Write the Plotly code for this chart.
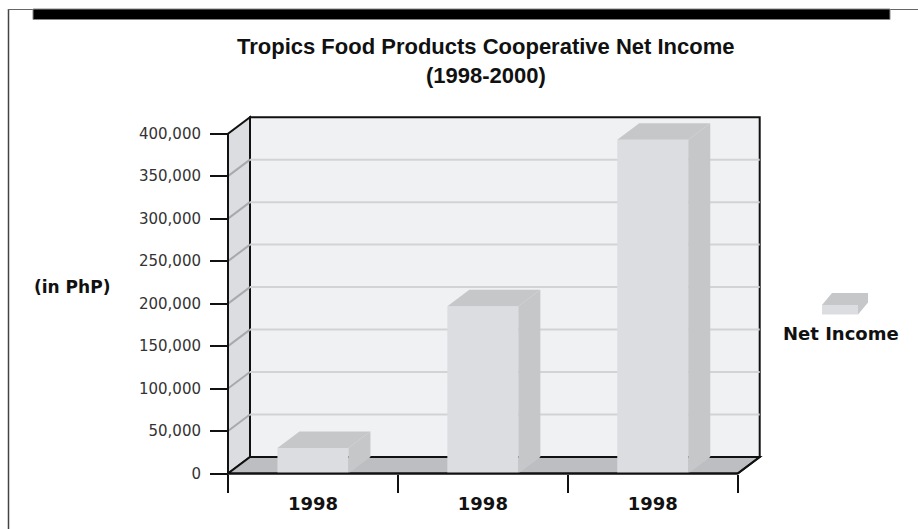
import plotly.graph_objects as go

# ---------------- data ----------------
categories = ["1998", "1998", "1998"]
net_income = [30000, 197000, 393000]
y_ticks = [0, 50000, 100000, 150000, 200000, 250000, 300000, 350000, 400000]
series_name = "Net Income"
title_line1 = "Tropics Food Products Cooperative Net Income"
title_line2 = "(1998-2000)"
y_title = "(in PhP)"

# ---------------- layout geometry ----------------
W, H = 918, 529
ML, MR, MT, MB = 220, 148, 110, 49
PW, PH = W - ML - MR, H - MT - MB
X_ORIGIN_PX = 228.0        # pixel of x = -0.5
X_PX_PER_UNIT = 169.9
Y_ZERO_PX = 473.5          # pixel of y = 0
Y_PX_PER_UNIT = 849.5 / 1e6
DX = 22 / X_PX_PER_UNIT    # depth offset (x units)
DY = 16.5 / Y_PX_PER_UNIT  # depth offset (y units)
BAR_W = 71 / X_PX_PER_UNIT

x_rng = [-0.5 + (ML - X_ORIGIN_PX) / X_PX_PER_UNIT,
         -0.5 + (W - MR - X_ORIGIN_PX) / X_PX_PER_UNIT]
y_rng = [(Y_ZERO_PX - (H - MB)) / Y_PX_PER_UNIT,
         (Y_ZERO_PX - MT) / Y_PX_PER_UNIT]


def px(x):
    return (x - ML) / PW


def py(y):
    return (H - MB - y) / PH


n = len(categories)
xs = list(range(n))
x_lo, x_hi = -0.5, n - 0.5
y_top = y_ticks[-1]

C_BACK = "#f0f1f3"
C_LEFT = "#dcdde0"
C_FLOOR = "#bdbec1"
C_FRONT = "#dcdde0"
C_TOP = "#c6c7c9"
C_EDGE = "#111111"

shapes = []
# back wall
shapes.append(dict(type="rect", xref="x", yref="y", layer="below",
                   x0=x_lo + DX, x1=x_hi + DX, y0=DY, y1=y_top + DY,
                   fillcolor=C_BACK, line=dict(color=C_EDGE, width=2)))
# left wall
shapes.append(dict(type="path", xref="x", yref="y", layer="below",
                   path=f"M{x_lo},0 L{x_lo},{y_top} L{x_lo+DX},{y_top+DY} L{x_lo+DX},{DY} Z",
                   fillcolor=C_LEFT, line=dict(color=C_EDGE, width=2)))
# floor
shapes.append(dict(type="path", xref="x", yref="y", layer="below",
                   path=f"M{x_lo},0 L{x_hi},0 L{x_hi+DX},{DY} L{x_lo+DX},{DY} Z",
                   fillcolor=C_FLOOR, line=dict(color=C_EDGE, width=2)))
# gridlines on back + left wall
for v in y_ticks[1:-1]:
    shapes.append(dict(type="line", xref="x", yref="y", layer="below",
                       x0=x_lo + DX, x1=x_hi + DX, y0=v + DY, y1=v + DY,
                       line=dict(color="#d2d3d5", width=2)))
    shapes.append(dict(type="line", xref="x", yref="y", layer="below",
                       x0=x_lo, x1=x_lo + DX, y0=v, y1=v + DY,
                       line=dict(color="#a9a9ab", width=2)))
# front edges on top
shapes.append(dict(type="line", xref="x", yref="y", layer="above",
                   x0=x_lo, x1=x_hi, y0=0, y1=0, line=dict(color=C_EDGE, width=2)))
shapes.append(dict(type="line", xref="x", yref="y", layer="above",
                   x0=x_hi, x1=x_hi + DX, y0=0, y1=DY, line=dict(color=C_EDGE, width=2)))
shapes.append(dict(type="line", xref="x", yref="y", layer="above",
                   x0=x_lo, x1=x_lo, y0=0, y1=y_top, line=dict(color=C_EDGE, width=2)))

# page frame decoration
shapes.append(dict(type="line", xref="paper", yref="paper",
                   x0=px(8.5), x1=px(8.5), y0=py(9), y1=py(529),
                   line=dict(color="#444444", width=1.5)))
shapes.append(dict(type="line", xref="paper", yref="paper",
                   x0=px(8), x1=px(918), y0=py(9.5), y1=py(9.5),
                   line=dict(color="#666666", width=1)))
shapes.append(dict(type="rect", xref="paper", yref="paper",
                   x0=px(33), x1=px(890), y0=py(9), y1=py(19.5),
                   fillcolor="#000000", line=dict(color="#888888", width=1)))

# legend icon (3D box)
lx0, lx1, ly0, ly1, ldx, ldy = 822, 858, 314.5, 305, 10, -12
shapes.append(dict(type="path", xref="paper", yref="paper", line=dict(width=0),
                   fillcolor=C_FRONT,
                   path=f"M{px(lx0)},{py(ly0)} L{px(lx1)},{py(ly0)} L{px(lx1)},{py(ly1)} L{px(lx0)},{py(ly1)} Z"))
shapes.append(dict(type="path", xref="paper", yref="paper", line=dict(width=0),
                   fillcolor=C_TOP,
                   path=f"M{px(lx0)},{py(ly1)} L{px(lx0+ldx)},{py(ly1+ldy)} L{px(lx1+ldx)},{py(ly1+ldy)} "
                        f"L{px(lx1+ldx)},{py(ly0+ldy)} L{px(lx1)},{py(ly0)} L{px(lx1)},{py(ly1)} Z"))

fig = go.Figure()
fig.add_trace(go.Bar(x=xs, y=net_income, width=BAR_W, name=series_name,
                     marker=dict(color=C_FRONT, line=dict(width=0)),
                     showlegend=False, hoverinfo="skip"))

# top and side faces computed from the data values
top_x, top_y, side_x, side_y = [], [], [], []
for xc, v in zip(xs, net_income):
    a, b = xc - BAR_W / 2, xc + BAR_W / 2
    top_x += [a, a + DX, b + DX, b, a, None]
    top_y += [v, v + DY, v + DY, v, v, None]
    side_x += [b, b, b + DX, b + DX, b, None]
    side_y += [0, v, v + DY, DY, 0, None]
for fx, fy in ((top_x, top_y), (side_x, side_y)):
    fig.add_trace(go.Scatter(x=fx, y=fy, mode="lines", fill="toself",
                             fillcolor=C_TOP, line=dict(width=0, color=C_TOP),
                             showlegend=False, hoverinfo="skip"))

annotations = [
    dict(text=title_line1, xref="paper", yref="paper", x=px(486), y=py(47),
         showarrow=False, xanchor="center", yanchor="middle",
         font=dict(family="Liberation Sans", size=22, color="#111111", weight="bold")),
    dict(text=title_line2, xref="paper", yref="paper", x=px(486), y=py(75),
         showarrow=False, xanchor="center", yanchor="middle",
         font=dict(family="Liberation Sans", size=22, color="#111111", weight="bold")),
    dict(text=y_title, xref="paper", yref="paper", x=px(72), y=py(287),
         showarrow=False, xanchor="center", yanchor="middle",
         font=dict(family="DejaVu Sans", size=17, color="#111111", weight="bold")),
    dict(text=series_name, xref="paper", yref="paper", x=px(841), y=py(333),
         showarrow=False, xanchor="center", yanchor="middle",
         font=dict(family="DejaVu Sans", size=18, color="#111111", weight="bold")),
]

fig.update_layout(
    width=W, height=H,
    margin=dict(l=ML, r=MR, t=MT, b=MB, pad=0),
    paper_bgcolor="white", plot_bgcolor="rgba(0,0,0,0)",
    showlegend=False,
    shapes=shapes,
    annotations=annotations,
    xaxis=dict(range=x_rng, anchor="free", position=py(Y_ZERO_PX),
               showgrid=False, zeroline=False, showline=False,
               tickmode="array", tickvals=xs, ticktext=categories, ticks="",
               ticklabelstandoff=17,
               tickfont=dict(family="DejaVu Sans", size=18, color="#111111", weight="bold"),
               minor=dict(tickmode="array", tickvals=[x_lo + i for i in range(n + 1)],
                          ticks="outside", ticklen=18, tickwidth=2, tickcolor="#111111",
                          showgrid=False),
               fixedrange=True),
    yaxis=dict(range=y_rng, anchor="free", position=px(X_ORIGIN_PX),
               showgrid=False, zeroline=False, showline=False,
               tickmode="array", tickvals=y_ticks, tickformat=",d",
               ticks="outside", ticklen=18, tickwidth=2, tickcolor="#111111",
               ticklabelstandoff=6,
               tickfont=dict(family="DejaVu Sans", size=15, color="#333333"),
               fixedrange=True),
)

fig.write_html("out.html")
